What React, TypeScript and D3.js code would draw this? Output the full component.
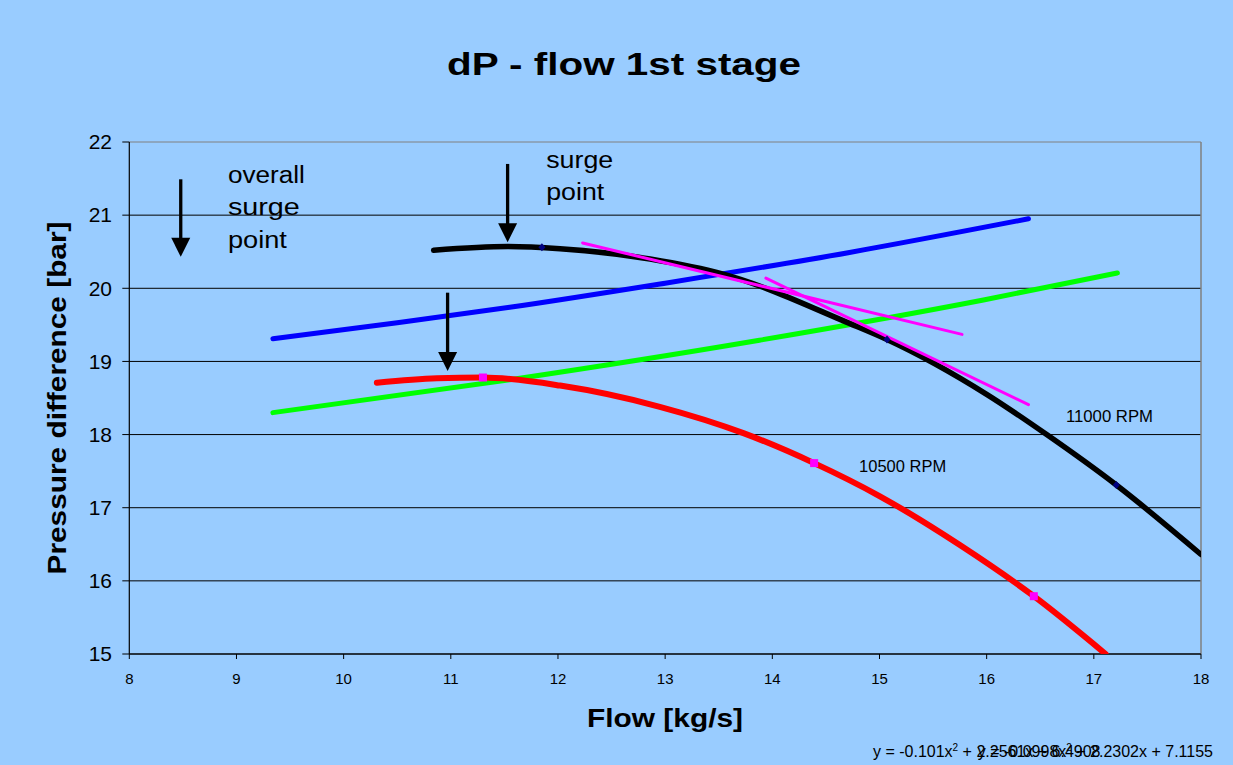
import React from "react";
import * as d3 from "d3";

type Pt = [number, number];

// axis ticks
const xTicks = [8, 9, 10, 11, 12, 13, 14, 15, 16, 17, 18];
const yTicks = [15, 16, 17, 18, 19, 20, 21, 22];

// compressor curves (flow kg/s, dP bar)
const rpm11000: Pt[] = [
  [10.84, 20.52], [11.53, 20.57], [12.02, 20.54], [12.86, 20.4], [13.55, 20.19],
  [14.72, 19.52], [15.07, 19.3], [16.0, 18.55], [16.56, 18.0], [17.21, 17.31], [18.0, 16.36],
];
const rpm10500: Pt[] = [
  [10.31, 18.71], [10.87, 18.77], [11.3, 18.78], [12.02, 18.67], [12.95, 18.38],
  [13.73, 18.02], [14.39, 17.61], [15.0, 17.16], [15.75, 16.49], [16.44, 15.79], [17.11, 15.0],
];
const systemBlue: Pt[] = [
  [9.34, 19.31], [10.5, 19.53], [11.55, 19.74], [13.0, 20.07], [14.72, 20.49], [16.39, 20.95],
];
const systemGreen: Pt[] = [
  [9.34, 18.3], [11.55, 18.75], [13.88, 19.29], [15.97, 19.84], [17.22, 20.21],
];
const tangentA: Pt[] = [[12.23, 20.62], [15.77, 19.37]];
const tangentB: Pt[] = [[13.94, 20.14], [16.39, 18.41]];
const markers11000: Pt[] = [[11.85, 20.56], [15.07, 19.3], [17.21, 17.31]];
const markers10500: Pt[] = [[11.3, 18.78], [14.39, 17.61], [16.44, 15.79]];

// surge arrows: x, top, tip
const arrows = [
  { x: 8.48, from: 21.49, to: 20.43 },
  { x: 11.53, from: 21.7, to: 20.63 },
  { x: 10.97, from: 19.94, to: 18.87 },
];

const W = 1233;
const H = 765;
const FONT = "Arial, 'Liberation Sans', sans-serif";

export default function App() {
  const x = d3.scaleLinear().domain([8, 18]).range([129.3, 1201]);
  const y = d3.scaleLinear().domain([15, 22]).range([654, 142]);

  const line = d3.line<Pt>().x(d => x(d[0])).y(d => y(d[1])).curve(d3.curveMonotoneX);
  const straight = d3.line<Pt>().x(d => x(d[0])).y(d => y(d[1]));

  const [x0, x1] = x.range();
  const [yb, yt] = y.range();

  return (
    <svg
      width={W}
      height={H}
      style={{ position: "absolute", left: 0, top: 0, display: "block" }}
      fontFamily={FONT}
    >
      <defs>
        <clipPath id="plot">
          <rect x={x0} y={yt} width={x1 - x0} height={yb - yt} />
        </clipPath>
      </defs>
      <rect width={W} height={H} fill="#99CCFF" />

      {/* gridlines */}
      {yTicks.map(t => (
        <line key={t} x1={x0} x2={x1} y1={y(t)} y2={y(t)}
          stroke={t === 22 ? "#808080" : "#000"} strokeWidth={1} />
      ))}
      <line x1={x1} x2={x1} y1={yt} y2={yb} stroke="#808080" strokeWidth={1.5} />

      {/* axes */}
      <line x1={x0} x2={x0} y1={yt} y2={yb} stroke="#000" strokeWidth={1.2} />
      <line x1={x0} x2={x1} y1={yb} y2={yb} stroke="#000" strokeWidth={1.2} />
      {yTicks.map(t => (
        <g key={t}>
          <line x1={x0 - 7} x2={x0} y1={y(t)} y2={y(t)} stroke="#000" />
          <text x={112} y={y(t)} dy="0.35em" textAnchor="end" fontSize={21}>{t}</text>
        </g>
      ))}
      {xTicks.map(t => (
        <g key={t}>
          <line x1={x(t)} x2={x(t)} y1={yb} y2={yb + 5} stroke="#000" />
          <text x={x(t)} y={684} textAnchor="middle" fontSize={15}>{t}</text>
        </g>
      ))}

      {/* curves */}
      <g clipPath="url(#plot)" fill="none" strokeLinecap="round" strokeLinejoin="round">
        <path d={line(systemBlue) ?? ""} stroke="#0000FF" strokeWidth={5} />
        <path d={line(systemGreen) ?? ""} stroke="#00FF00" strokeWidth={5} />
        <path d={line(rpm11000) ?? ""} stroke="#000" strokeWidth={5.5} />
        <path d={line(rpm10500) ?? ""} stroke="#FF0000" strokeWidth={6} />
        <path d={straight(tangentA) ?? ""} stroke="#FF00FF" strokeWidth={3} />
        <path d={straight(tangentB) ?? ""} stroke="#FF00FF" strokeWidth={3} />
      </g>

      {markers11000.map((d, i) => (
        <path key={i} d={`M${x(d[0])},${y(d[1]) - 4}l3.5,4l-3.5,4l-3.5,-4z`} fill="#000080" />
      ))}
      {markers10500.map((d, i) => (
        <rect key={i} x={x(d[0]) - 4} y={y(d[1]) - 4} width={8} height={8} fill="#FF00FF" />
      ))}

      {/* surge arrows */}
      {arrows.map((a, i) => {
        const ax = x(a.x);
        const top = y(a.from);
        const tip = y(a.to);
        return (
          <g key={i}>
            <line x1={ax} x2={ax} y1={top} y2={tip - 16} stroke="#000" strokeWidth={3.3} />
            <path d={`M${ax - 9.5},${tip - 19}L${ax + 9.5},${tip - 19}L${ax},${tip}Z`} fill="#000" />
          </g>
        );
      })}

      {/* annotations */}
      <text x={x(8.92)} y={y(21.44)} fontSize={23} textLength={77} lengthAdjust="spacingAndGlyphs">overall</text>
      <text x={x(8.92)} y={y(21.44) + 32.5} fontSize={23} textLength={72} lengthAdjust="spacingAndGlyphs">surge</text>
      <text x={x(8.92)} y={y(21.44) + 65} fontSize={23} textLength={59} lengthAdjust="spacingAndGlyphs">point</text>
      <text x={x(11.89)} y={y(21.645)} fontSize={23} textLength={67} lengthAdjust="spacingAndGlyphs">surge</text>
      <text x={x(11.89)} y={y(21.645) + 32} fontSize={23} textLength={58} lengthAdjust="spacingAndGlyphs">point</text>
      <text x={x(16.74)} y={y(18.17)} fontSize={16} textLength={87} lengthAdjust="spacingAndGlyphs">11000 RPM</text>
      <text x={x(14.81)} y={y(17.49)} fontSize={16} textLength={87} lengthAdjust="spacingAndGlyphs">10500 RPM</text>

      {/* titles */}
      <text x={624} y={75} textAnchor="middle" fontSize={31} fontWeight="bold"
        textLength={354} lengthAdjust="spacingAndGlyphs">dP - flow 1st stage</text>
      <text transform="translate(66,398) rotate(-90)" textAnchor="middle" fontSize={25} fontWeight="bold"
        textLength={353} lengthAdjust="spacingAndGlyphs">Pressure difference [bar]</text>
      <text x={665} y={727} textAnchor="middle" fontSize={25} fontWeight="bold"
        textLength={156} lengthAdjust="spacingAndGlyphs">Flow [kg/s]</text>

      {/* trendline equations, overlapping as in the source chart */}
      <text x={873} y={757} fontSize={16}>
        y = -0.101x<tspan dy={-6} fontSize={10}>2</tspan><tspan dy={6}> + 2.2561x + 6.4908</tspan>
      </text>
      <text x={1213} y={757} fontSize={16} textAnchor="end">
        y = -0.0998x<tspan dy={-6} fontSize={10}>2</tspan><tspan dy={6}> + 2.2302x + 7.1155</tspan>
      </text>
    </svg>
  );
}
